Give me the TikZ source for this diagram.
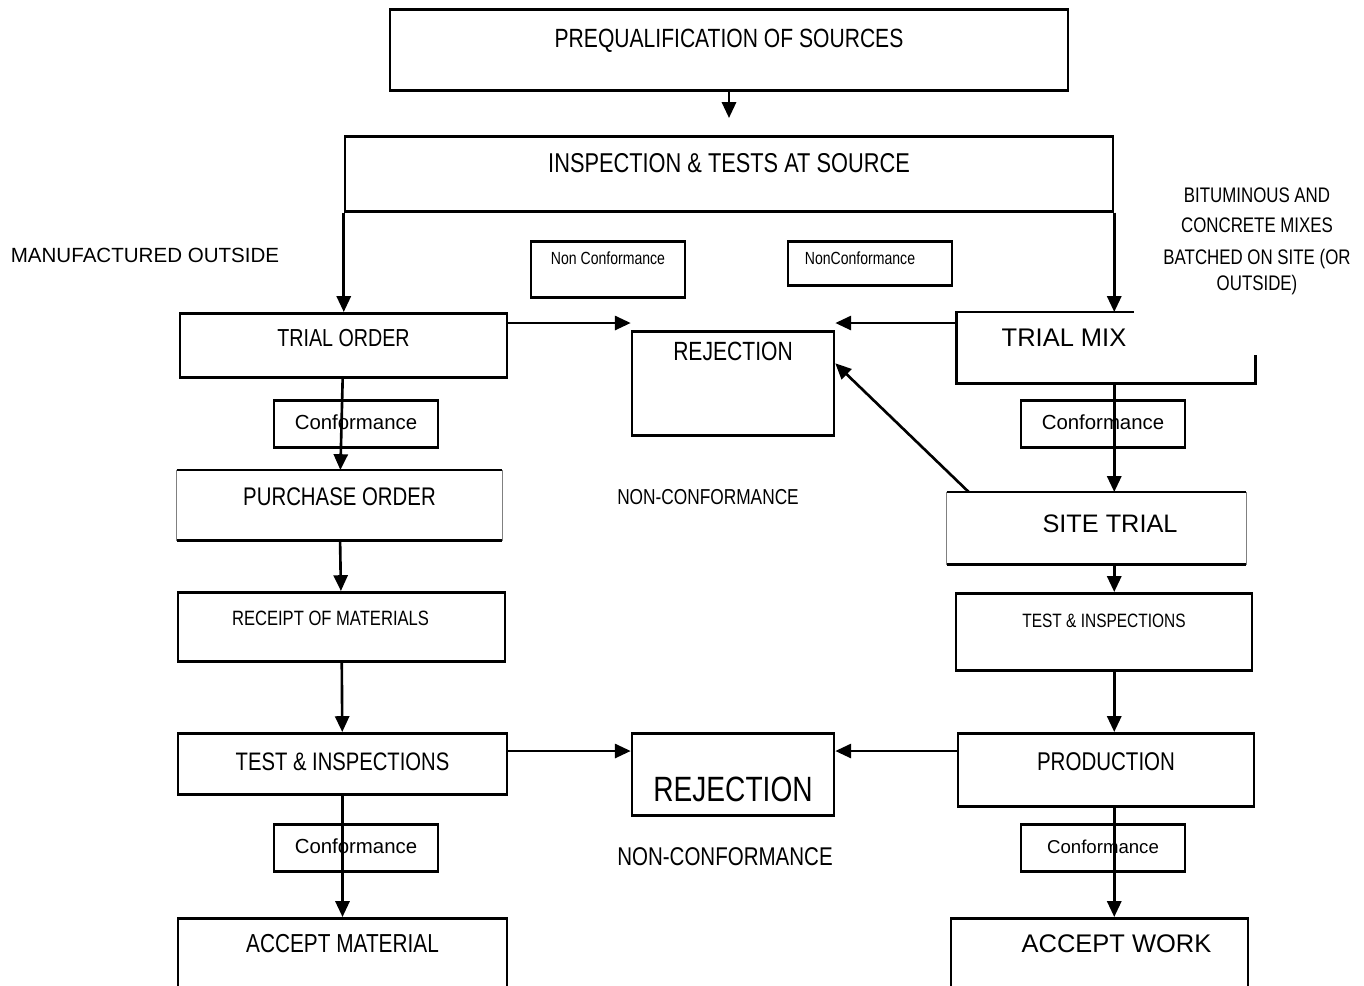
\documentclass[tikz,border=0pt]{standalone}
\usepackage{fontspec}
\setmainfont{Liberation Sans}
\newfontfamily\nar[FakeStretch=0.8]{Liberation Sans}
\usetikzlibrary{arrows.meta}
\newcommand{\fsz}[1]{\fontsize{#1}{#1}\selectfont}
\tikzset{
  box/.style={draw, line width=1.5pt, anchor=north, inner sep=0pt},
  link/.style={->, line width=1.5pt},
  >={Triangle[length=9pt,width=8pt]}
}
\begin{document}
\begin{tikzpicture}[x=0.02cm,y=-0.02cm]
\useasboundingbox (0,0) rectangle (1364,985);
\clip (0,0) rectangle (1364,985);
% top
\node[box, minimum width=13.56cm, text height=.77cm, text depth=.85cm, font=\nar\fsz{15}] (preq) at (729,8) {PREQUALIFICATION OF SOURCES};
\node[box, minimum width=15.36cm, text height=.72cm, text depth=.78cm, font=\nar\fsz{15.5}] (insp) at (729,135) {INSPECTION \& TESTS AT SOURCE};
\node[box, minimum width=3.08cm, text height=.46cm, text depth=.66cm, font=\nar\fsz{10}] (nonA) at (608,240) {Non Conformance};
\node[box, minimum width=3.28cm, text height=.46cm, text depth=.42cm, font=\nar\fsz{10}] (nonB) at (870,240) {NonConformance\hspace*{.4cm}};
% left column
\node[box, minimum width=6.54cm, text height=.66cm, text depth=.62cm, font=\nar\fsz{14}] (torder) at (343.5,312) {TRIAL ORDER};
\node[box, minimum width=3.28cm, text height=.58cm, text depth=.36cm, font=\fsz{11.6}] (conA) at (356,399) {Conformance};
\node[box, draw=none, minimum width=6.46cm, text height=.68cm, text depth=.68cm, font=\nar\fsz{14.5}] (purch) at (339.5,470) {PURCHASE ORDER};
\node[box, minimum width=6.54cm, text height=.67cm, text depth=.71cm, font=\nar\fsz{11.8}] (receipt) at (341.5,591) {\hspace*{-.44cm}RECEIPT OF MATERIALS};
\node[box, minimum width=6.58cm, text height=.74cm, text depth=.48cm, font=\nar\fsz{14.4}] (testL) at (342.5,732) {TEST \& INSPECTIONS};
\node[box, minimum width=3.28cm, text height=.58cm, text depth=.36cm, font=\fsz{11.6}] (conC) at (356,823) {Conformance};
\node[box, minimum width=6.58cm, text height=.68cm, text depth=1.2cm, font=\nar\fsz{14.8}] (acceptM) at (342.5,917) {ACCEPT MATERIAL};
% middle
\node[box, minimum width=4.04cm, text height=.59cm, text depth=1.49cm, font=\nar\fsz{15}] (rejA) at (733,330) {REJECTION};
\node[box, minimum width=4.04cm, text height=1.37cm, text depth=.27cm, font=\nar\fsz{20}] (rejB) at (733,732) {REJECTION};
\node[font=\nar\fsz{12.3}] (ncA) at (708,497) {NON-CONFORMANCE};
\node[font=\nar\fsz{14.6}] (ncB) at (725,857) {NON-CONFORMANCE};
% right column
\node[box, draw=none, minimum width=5.92cm, text height=.66cm, text depth=.72cm, font=\fsz{14.5}] (tmix) at (1106,312) {TRIAL MIX\hspace*{1.68cm}};
\node[box, minimum width=3.28cm, text height=.58cm, text depth=.36cm, font=\fsz{11.6}] (conB) at (1103,399) {Conformance};
\node[box, draw=none, minimum width=5.94cm, text height=.78cm, text depth=.62cm, font=\fsz{14.4}] (site) at (1096.5,492) {\hspace*{.54cm}SITE TRIAL};
\node[box, minimum width=5.92cm, text height=.68cm, text depth=.86cm, font=\nar\fsz{11}] (testR) at (1104,592) {TEST \& INSPECTIONS};
\node[box, minimum width=5.92cm, text height=.74cm, text depth=.72cm, font=\nar\fsz{14.6}] (prod) at (1106,732) {PRODUCTION};
\node[box, minimum width=3.28cm, text height=.58cm, text depth=.36cm, font=\fsz{10.6}] (conD) at (1103,823) {Conformance};
\node[box, minimum width=5.94cm, text height=.68cm, text depth=1.2cm, font=\fsz{14.5}] (acceptW) at (1099.5,917) {\hspace*{.68cm}ACCEPT WORK};
% side notes
\node[font=\fsz{11.7}] (manuf) at (145,255) {MANUFACTURED OUTSIDE};
\node[font=\nar\fontsize{12}{14.4}\selectfont, align=center] (bitum) at (1257,241) {BITUMINOUS AND\\[3pt] CONCRETE MIXES\\[4pt] BATCHED ON SITE (OR\\ OUTSIDE)};
% open borders
\draw[line width=1.5pt] ([xshift=3.54cm]tmix.north west) -- (tmix.north west) -- (tmix.south west) -- (tmix.south east) -- ([yshift=.58cm]tmix.south east);
\draw[line width=1.5pt] (purch.north west) -- (purch.north east) (purch.south west) -- (purch.south east);
\draw[gray] (purch.north west) -- (purch.south west) (purch.north east) -- (purch.south east);
\draw[line width=1.5pt] (site.north west) -- (site.north east) (site.south west) -- (site.south east);
\draw[gray] (site.north west) -- (site.south west) (site.north east) -- (site.south east);
% links
\draw[link, shorten >=.34cm] (preq) -- (insp);
\draw[link] (insp.south west) -- (insp.south west |- torder.north);
\draw[link] (insp.south east) -- (insp.south east |- tmix.north);
\draw[link] ([yshift=-.22cm]torder.north east) -- ([yshift=-.22cm]torder.north east -| rejA.west);
\draw[link] ([yshift=-.22cm]tmix.north west) -- ([yshift=-.22cm]tmix.north west -| rejA.east);
\draw[link] ([xshift=.44cm]site.north west) -- ([yshift=.4cm]rejA.east);
\draw[link] (torder) -- (purch);
\draw[link] (insp.south east |- tmix.south) -- (insp.south east |- site.north);
\draw[link] (purch) -- (receipt);
\draw[link] (receipt) -- (testL);
\draw[link] (insp.south east |- site.south) -- (insp.south east |- testR.north);
\draw[link] (insp.south east |- testR.south) -- (insp.south east |- prod.north);
\draw[link] ([yshift=-.38cm]testL.north east) -- ([yshift=-.38cm]testL.north east -| rejB.west);
\draw[link] ([yshift=-.38cm]prod.north west) -- ([yshift=-.38cm]prod.north west -| rejB.east);
\draw[link] (testL) -- (acceptM);
\draw[link] (insp.south east |- prod.south) -- (insp.south east |- acceptW.north);
\end{tikzpicture}
\end{document}
